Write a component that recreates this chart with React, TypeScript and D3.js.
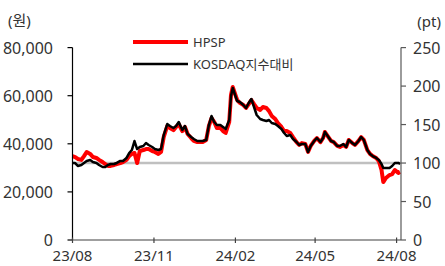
import React from "react";
import * as d3 from "d3";

const dates = [
  "2023-08-01","2023-08-04","2023-08-07","2023-08-11","2023-08-14","2023-08-17","2023-08-21","2023-08-24","2023-08-28","2023-08-31",
  "2023-09-04","2023-09-07","2023-09-10","2023-09-13","2023-09-17","2023-09-20","2023-09-24","2023-09-27","2023-10-01","2023-10-04",
  "2023-10-07","2023-10-10","2023-10-13","2023-10-16","2023-10-20","2023-10-23","2023-10-26","2023-10-30","2023-11-02","2023-11-06",
  "2023-11-09","2023-11-12","2023-11-16","2023-11-19","2023-11-23","2023-11-26","2023-11-29","2023-12-03","2023-12-06","2023-12-09",
  "2023-12-13","2023-12-16","2023-12-20","2023-12-23","2023-12-26","2023-12-30","2024-01-02","2024-01-05","2024-01-08","2024-01-11",
  "2024-01-15","2024-01-18","2024-01-21","2024-01-25","2024-01-27","2024-01-29","2024-02-01","2024-02-03","2024-02-06","2024-02-10",
  "2024-02-13","2024-02-16","2024-02-19","2024-02-22","2024-02-25","2024-02-29","2024-03-03","2024-03-07","2024-03-10","2024-03-13",
  "2024-03-17","2024-03-20","2024-03-24","2024-03-27","2024-03-30","2024-04-03","2024-04-06","2024-04-10","2024-04-13","2024-04-16",
  "2024-04-20","2024-04-23","2024-04-26","2024-04-30","2024-05-03","2024-05-07","2024-05-10","2024-05-12","2024-05-16","2024-05-19",
  "2024-05-22","2024-05-26","2024-05-29","2024-06-02","2024-06-05","2024-06-08","2024-06-12","2024-06-15","2024-06-19","2024-06-22",
  "2024-06-25","2024-06-29","2024-07-02","2024-07-05","2024-07-09","2024-07-12","2024-07-15","2024-07-17","2024-07-20","2024-07-24",
  "2024-07-27","2024-07-30","2024-08-03","2024-08-05"
];

const hpsp = [
  34900, 34500, 33700, 33300, 34900, 36600, 35800, 34500, 34100, 33300,
  32400, 31600, 30800, 30800, 31200, 31600, 32000, 32400, 33300, 34900,
  35800, 36200, 32000, 37000, 37400, 37800, 37800, 37000, 36600, 35800,
  36600, 42800, 47400, 46600, 45700, 47000, 48200, 45300, 47000, 44100,
  42400, 41200, 40700, 40700, 40700, 41600, 47400, 50700, 49100, 46600,
  46600, 45300, 44500, 49100, 60300, 63600, 60300, 58200, 57000, 56100,
  54900, 56500, 58200, 56500, 54900, 54100, 55300, 54900, 53600, 51600,
  50300, 48600, 47000, 45300, 45300, 44500, 42800, 40700, 39500, 40300,
  39900, 36600, 39100, 41200, 42400, 40700, 42400, 44900, 42800, 41200,
  40700, 39100, 38700, 39500, 38700, 41600, 40300, 39500, 41200, 42800,
  41600, 37400, 35800, 34900, 34100, 32800, 29100, 24100, 25800, 27000,
  27400, 29100, 27900, 28300
];

const kosdaqRel = [
  100, 100, 96.2, 97.5, 100.1, 102.7, 104, 101.4, 100.1, 97.5,
  94.9, 94.9, 97.5, 98.8, 98.8, 100.1, 102.7, 102.7, 106.6, 113,
  116.9, 128.6, 118.2, 120.8, 122.1, 126, 123.4, 120.8, 118.2, 116.9,
  118.2, 136.4, 150.7, 148.1, 145.5, 148.1, 153.3, 142.9, 148.1, 137.7,
  133.8, 131.2, 128.6, 128.6, 128.6, 129.9, 149.4, 161.1, 153.3, 149.4,
  149.4, 146.8, 144.2, 155.9, 187.1, 197.5, 187.1, 180.6, 179.3, 175.4,
  171.5, 178, 183.2, 172.8, 162.4, 157.2, 155.9, 154.6, 155.9, 152,
  150.7, 148.1, 144.2, 139, 135.1, 136.4, 131.2, 127.3, 123.4, 124.7,
  124.7, 114.3, 122.1, 128.6, 132.5, 127.3, 132.5, 140.3, 133.8, 128.6,
  127.3, 122.1, 122.1, 124.7, 120.8, 129.9, 126, 123.4, 128.6, 133.8,
  129.9, 116.9, 111.7, 109.1, 106.6, 104, 98.8, 93.6, 93.6, 93.6,
  96.2, 100.1, 100.1, 98.8
];

const leftTicks = [0, 20000, 40000, 60000, 80000];
const rightTicks = [0, 50, 100, 150, 200, 250];
const xTickDates = ["2023-08-01", "2023-11-01", "2024-02-01", "2024-05-01", "2024-08-01"];
const baseLinePt = 100;
const seriesNames = ["HPSP", "KOSDAQ지수대비"];
const leftUnit = "(원)";
const rightUnit = "(pt)";

const W = 445;
const H = 266;
const FONT = "'Noto Sans', 'Noto Sans CJK KR', sans-serif";

export default function App() {
  const parse = d3.timeParse("%Y-%m-%d");
  const ds = dates.map((d) => parse(d) as Date);
  const x = d3
    .scaleTime()
    .domain([parse("2023-08-01") as Date, parse("2024-08-06") as Date])
    .range([72.5, 401]);
  const yL = d3.scaleLinear().domain([0, 80000]).range([240, 47.6]);
  const yR = d3.scaleLinear().domain([0, 250]).range([240, 47.6]);
  const fmtX = d3.timeFormat("%y/%m");
  const fmtL = d3.format(",");

  const redLine = d3
    .line<number>()
    .x((_, i) => x(ds[i]))
    .y((v) => yL(v))(hpsp) as string;
  const blackLine = d3
    .line<number>()
    .x((_, i) => x(ds[i]))
    .y((v) => yR(v))(kosdaqRel) as string;

  const x0 = x.range()[0];
  const x1 = x.range()[1];
  const textColor = "#333";

  return (
    <svg
      width={W}
      height={H}
      style={{ position: "absolute", left: 0, top: 0, background: "#fff" }}
      fontFamily={FONT}
    >
      {/* unit labels */}
      <text x={8} y={20} fontSize={15} fill={textColor} dominantBaseline="central">
        {leftUnit}
      </text>
      <text x={441} y={21} fontSize={15} fill={textColor} dominantBaseline="central" textAnchor="end">
        {rightUnit}
      </text>

      {/* baseline 100pt */}
      <line x1={x0} x2={x1} y1={yR(baseLinePt)} y2={yR(baseLinePt)} stroke="#c0c0c0" strokeWidth={2.5} />

      {/* series */}
      <path d={redLine} fill="none" stroke="#ff0000" strokeWidth={4} strokeLinejoin="round" />
      <path d={blackLine} fill="none" stroke="#000" strokeWidth={2.5} strokeLinejoin="round" />

      {/* left axis */}
      <line x1={x0} x2={x0} y1={yL(80000)} y2={yL(0)} stroke="#000" strokeWidth={1.2} />
      {leftTicks.map((t) => (
        <g key={"l" + t}>
          <line x1={x0 - 5} x2={x0} y1={yL(t)} y2={yL(t)} stroke="#000" strokeWidth={1.2} />
          <text x={53} y={yL(t)} fontSize={16} fill={textColor} textAnchor="end" dominantBaseline="central">
            {fmtL(t)}
          </text>
        </g>
      ))}

      {/* right axis */}
      <line x1={x1} x2={x1} y1={yR(250)} y2={yR(0)} stroke="#595959" strokeWidth={1.2} />
      {rightTicks.map((t) => (
        <g key={"r" + t}>
          <line x1={x1} x2={x1 + 5} y1={yR(t)} y2={yR(t)} stroke="#595959" strokeWidth={1.2} />
          <text x={413} y={yR(t)} fontSize={16} fill={textColor} textAnchor="start" dominantBaseline="central">
            {t}
          </text>
        </g>
      ))}

      {/* x axis */}
      <line x1={x0} x2={x1} y1={240} y2={240} stroke="#404040" strokeWidth={1.2} />
      {xTickDates.map((s) => {
        const d = parse(s) as Date;
        return (
          <g key={s}>
            <line x1={x(d)} x2={x(d)} y1={237.5} y2={243} stroke="#404040" strokeWidth={1.2} />
            <text x={x(d)} y={255} fontSize={15} fill={textColor} textAnchor="middle" dominantBaseline="central">
              {fmtX(d)}
            </text>
          </g>
        );
      })}

      {/* legend */}
      <line x1={133} x2={188} y1={42} y2={42} stroke="#ff0000" strokeWidth={4} />
      <text x={193} y={42} fontSize={13} fill={textColor} dominantBaseline="central">
        {seriesNames[0]}
      </text>
      <line x1={133} x2={188} y1={64} y2={64} stroke="#000" strokeWidth={2.5} />
      <text x={193} y={64} fontSize={13} fill={textColor} dominantBaseline="central">
        {seriesNames[1]}
      </text>
    </svg>
  );
}
